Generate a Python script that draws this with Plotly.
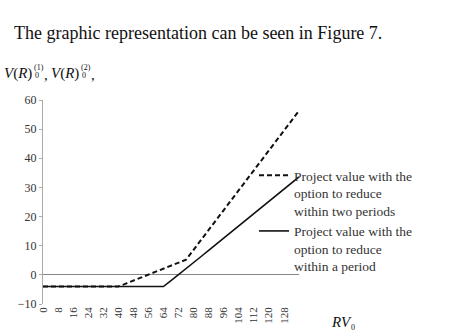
import plotly.graph_objects as go

# ---- data ----
rv = [0, 4, 8, 12, 16, 20, 24, 28, 32, 36, 40, 44, 48, 52, 56, 60, 64, 68,
      72, 76, 80, 84, 88, 92, 96, 100, 104, 108, 112, 116, 120, 124, 128, 132, 136]
two_periods = [-4, -4, -4, -4, -4, -4, -4, -4, -4, -4, -4, -3.0, -2.0, -0.9, 0.1, 1.1,
               2.2, 3.2, 4.2, 5.2, 8.6, 12.0, 15.4, 18.8, 22.2, 25.6, 29.0, 32.4, 35.8,
               39.2, 42.6, 46.0, 49.4, 52.9, 56.3]
one_period = [-4, -4, -4, -4, -4, -4, -4, -4, -4, -4, -4, -4, -4, -4, -4, -4, -4, -2.0,
              0.0, 2.1, 4.2, 6.3, 8.4, 10.5, 12.6, 14.7, 16.8, 18.9, 21.0, 23.1, 25.2,
              27.3, 29.4, 31.5, 33.6]
x_ticks = [0, 8, 16, 24, 32, 40, 48, 56, 64, 72, 80, 88, 96, 104, 112, 120, 128]
y_ticks = [-10, 0, 10, 20, 30, 40, 50, 60]
legend_two = "Project value with the<br>option to reduce<br>within two periods"
legend_one = "Project value with the<br>option to reduce<br>within a period"

W, H = 461, 336
L, R, T, B = 43, 299, 100, 304
SERIF = "Liberation Serif"


def px(x):
    return (x - L) / (R - L)


def py(y):
    return (B - y) / (B - T)


def note(text, x, y, size, anchor="left"):
    return dict(text=text, x=px(x), y=py(y), xref="paper", yref="paper",
                xanchor=anchor, yanchor="middle", showarrow=False, borderpad=0,
                font=dict(family=SERIF, size=size, color="#111"))


fig = go.Figure()
fig.add_trace(go.Scatter(x=rv, y=two_periods, mode="lines", name=legend_two,
                         line=dict(color="#111", width=2, dash="5px,3px")))
fig.add_trace(go.Scatter(x=rv, y=one_period, mode="lines", name=legend_one,
                         line=dict(color="#111", width=1.6)))

ann = [note("The graphic representation can be seen in Figure 7.", 13, 33, 18)]
# y-axis title pieces
for x0, sup in [(3, "(1)"), (50, "(2)")]:
    ann.append(note("<i>V</i>(<i>R</i>)", x0, 73, 15))
    ann.append(note(sup, x0 + 30, 68, 8))
    ann.append(note("0", x0 + 31, 75, 8))
    ann.append(note(",", x0 + 40, 75, 15))
ann.append(note("<i>RV</i>", 330, 322, 15))
ann.append(note("0", 350, 327, 8))

fig.update_layout(
    width=W, height=H,
    margin=dict(l=L, r=W - R, t=T, b=H - B, pad=0),
    paper_bgcolor="white", plot_bgcolor="white",
    font=dict(family=SERIF, size=12, color="#333"),
    showlegend=True,
    legend=dict(x=px(254), y=py(160), xanchor="left", yanchor="top",
                bgcolor="rgba(0,0,0,0)", itemwidth=30, valign="top",
                font=dict(family=SERIF, size=13.5, color="#333"), tracegroupgap=0),
    xaxis=dict(range=[0, 136], tickmode="array", tickvals=x_ticks,
               ticktext=[str(v) for v in x_ticks], tickangle=-90, showgrid=False,
               zeroline=False, showline=False, ticks="",
               tickfont=dict(family=SERIF, size=11, color="#333")),
    yaxis=dict(range=[-10, 60], tickmode="array", tickvals=y_ticks, showgrid=False,
               zeroline=True, zerolinecolor="#888", zerolinewidth=1,
               showline=True, linecolor="#aaa", linewidth=1,
               ticks="outside", ticklen=3, tickcolor="#aaa",
               tickfont=dict(family=SERIF, size=12, color="#333")),
    annotations=ann,
)

fig.write_html("out.html")
